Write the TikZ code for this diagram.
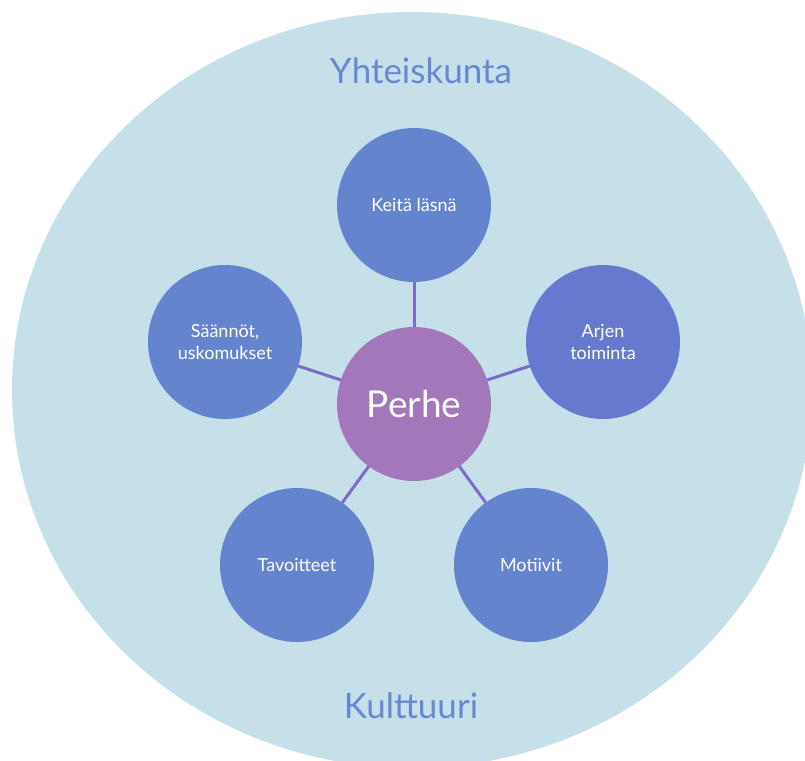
\documentclass[tikz,border=0pt]{standalone}
\usepackage{fontspec}
\setmainfont{Lato}
\definecolor{bgc}{HTML}{C5E0E8}
\definecolor{bluec}{HTML}{6584CE}
\definecolor{blue2}{HTML}{6679CF}
\definecolor{perhec}{HTML}{A278BB}
\definecolor{connc}{HTML}{7D6ACB}
\definecolor{titlec}{HTML}{6887D3}
\tikzset{
  satellite/.style={circle, fill=bluec, minimum size=154pt, inner sep=0pt, outer sep=0pt,
    text=white, align=center, font=\fontsize{18}{22}\selectfont},
  hub/.style={circle, fill=perhec, minimum size=154pt, inner sep=0pt, outer sep=0pt,
    text=white, font=\fontsize{37}{40}\selectfont},
  conn/.style={draw=connc, line width=3pt},
  titletext/.style={text=titlec, font=\fontsize{35}{40}\selectfont, inner sep=0pt}
}
\begin{document}
\begin{tikzpicture}[x=1pt,y=-1pt]
\useasboundingbox (0,0) rectangle (805,760);
\clip (0,0) rectangle (805,760);
\fill[bgc] (412,390) ellipse [x radius=400pt, y radius=378pt];
\node[titletext, anchor=base] (yh) at (421,83) {Yhteiskunta};
\node[titletext, anchor=base] (ku) at (411,718) {Kulttuuri};
\node[hub] (p) at (414,404) {Perhe};
\node[satellite] (k) at (414,205) {Keitä läsnä};
\node[satellite, fill=blue2] (a) at (603,342) {Arjen\\toiminta};
\node[satellite] (m) at (531,565) {Motiivit};
\node[satellite] (t) at (297,565) {Tavoitteet};
\node[satellite] (s) at (225,342) {Säännöt,\\uskomukset};
\foreach \n in {k,a,m,t,s} \draw[conn] (p) -- (\n);
\end{tikzpicture}
\end{document}
